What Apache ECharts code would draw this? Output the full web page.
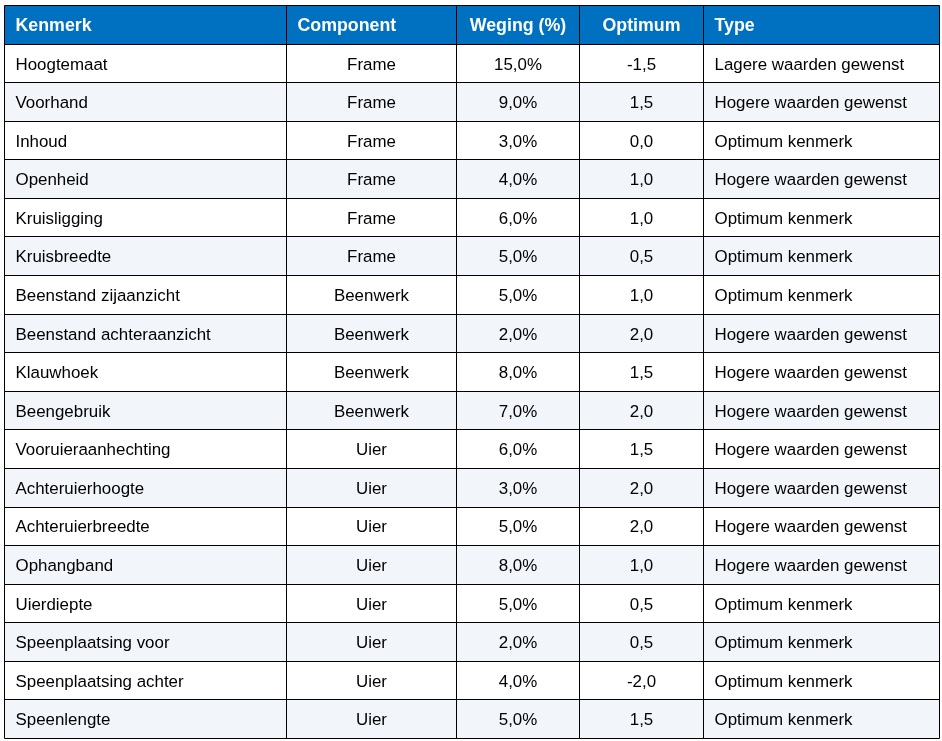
<!DOCTYPE html>
<html>
<head>
<meta charset="utf-8">
<script src="https://cdn.jsdelivr.net/npm/echarts@6/dist/echarts.min.js"></script>
<style>html,body{margin:0;padding:0;background:#fff}#c{width:942px;height:741px}</style>
</head>
<body>
<div id="c"></div>
<script>
const headers = ['Kenmerk', 'Component', 'Weging (%)', 'Optimum', 'Type'];
const kenmerk = ['Hoogtemaat','Voorhand','Inhoud','Openheid','Kruisligging','Kruisbreedte','Beenstand zijaanzicht','Beenstand achteraanzicht','Klauwhoek','Beengebruik','Vooruieraanhechting','Achteruierhoogte','Achteruierbreedte','Ophangband','Uierdiepte','Speenplaatsing voor','Speenplaatsing achter','Speenlengte'];
const component = ['Frame','Frame','Frame','Frame','Frame','Frame','Beenwerk','Beenwerk','Beenwerk','Beenwerk','Uier','Uier','Uier','Uier','Uier','Uier','Uier','Uier'];
const weging = [15,9,3,4,6,5,5,2,8,7,6,3,5,8,5,2,4,5];
const optimum = [-1.5,1.5,0,1,1,0.5,1,2,1.5,2,1.5,2,2,1,0.5,0.5,-2,1.5];
const type = ['Lagere waarden gewenst','Hogere waarden gewenst','Optimum kenmerk','Hogere waarden gewenst','Optimum kenmerk','Optimum kenmerk','Optimum kenmerk','Hogere waarden gewenst','Hogere waarden gewenst','Hogere waarden gewenst','Hogere waarden gewenst','Hogere waarden gewenst','Hogere waarden gewenst','Hogere waarden gewenst','Optimum kenmerk','Optimum kenmerk','Optimum kenmerk','Optimum kenmerk'];

// layout (not data)
const colEdges = [0, 281.5, 451.5, 575.3, 699.3, 934.5];
const headerAlign = ['left','left','center','center','left'];
const bodyAlign = ['left','center','center','center','left'];
const PAD = 11;
const TEXT_DY = 2;

const fmt = v => v.toFixed(1).replace('.', ',');
const rowCats = ['h'].concat(kenmerk.map((_, i) => 'r' + i));
const cellText = (c, r) => {
  if (r === 0) return headers[c];
  const i = r - 1;
  return [kenmerk[i], component[i], fmt(weging[i]) + '%', fmt(optimum[i]), type[i]][c];
};
const cells = [];
for (let r = 0; r < rowCats.length; r++)
  for (let c = 0; c < headers.length; c++) cells.push([c, r]);

function cellBox(api, c, r) {
  const p0 = api.coord([colEdges[c], r]);
  const p1 = api.coord([colEdges[c + 1], r]);
  const h = api.size([0, 1])[1];
  const x0 = Math.round(p0[0]) + 0.5, x1 = Math.round(p1[0]) + 0.5;
  const y0 = Math.round(p0[1] - h / 2) + 0.5, y1 = Math.round(p0[1] + h / 2) + 0.5;
  return {x0, x1, y0, y1, cy: p0[1]};
}

const chart = echarts.init(document.getElementById('c'), null, {renderer: 'canvas'});
chart.setOption({
  animation: false,
  grid: {left: 4, right: 3.5, top: 5, bottom: 3},
  xAxis: {type: 'value', min: colEdges[0], max: colEdges[colEdges.length - 1], show: false},
  yAxis: {type: 'category', data: rowCats, inverse: true, show: false},
  series: [
    {
      type: 'custom',
      data: cells,
      z: 2,
      renderItem: function (params, api) {
        const c = api.value(0), r = api.value(1);
        const b = cellBox(api, c, r);
        const isHead = r === 0;
        const fill = isHead ? '#0070C0' : (r % 2 === 0 ? '#F2F5FA' : '#FFFFFF');
        const align = isHead ? headerAlign[c] : bodyAlign[c];
        const tx = align === 'left' ? b.x0 + PAD : (b.x0 + b.x1) / 2;
        return {
          type: 'group',
          children: [
            {type: 'rect', shape: {x: b.x0, y: b.y0, width: b.x1 - b.x0, height: b.y1 - b.y0}, style: {fill: fill}},
            {type: 'text', style: {
              x: tx, y: b.cy + TEXT_DY, text: cellText(c, r),
              align: align, verticalAlign: 'middle',
              fill: isHead ? '#FFFFFF' : '#000000',
              font: (isHead ? 'bold 17.8px' : '16.9px') + ' "Liberation Sans", Arial, sans-serif'
            }}
          ]
        };
      }
    },
    {
      type: 'custom',
      data: cells,
      z: 3,
      silent: true,
      renderItem: function (params, api) {
        const c = api.value(0), r = api.value(1);
        const b = cellBox(api, c, r);
        return {type: 'rect', shape: {x: b.x0, y: b.y0, width: b.x1 - b.x0, height: b.y1 - b.y0},
          style: {fill: 'none', stroke: '#000000', lineWidth: 1}};
      }
    }
  ]
});
</script>
</body>
</html>
